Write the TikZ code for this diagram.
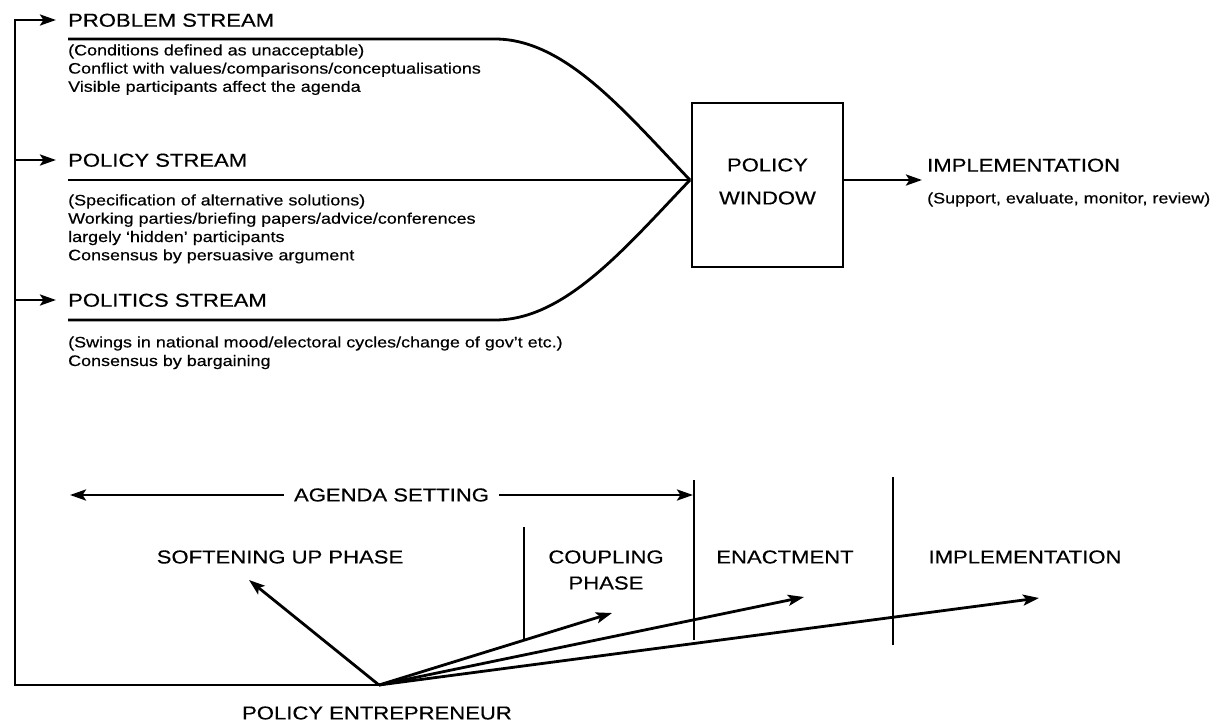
\documentclass[tikz,border=0pt]{standalone}
\usepackage{fontspec}
\setmainfont{Liberation Sans}[FakeStretch=1.18,FakeBold=0.4]
\usetikzlibrary{arrows.meta}
\begin{document}
\begin{tikzpicture}[x=1pt,y=-1pt,
  line/.style={line width=2.8pt},
  arr/.style={line width=2.8pt,-{Stealth[length=16pt,width=11pt,inset=3.5pt]}},
  title/.style={font=\fontsize{18.7}{33}\selectfont, inner sep=0pt},
  small/.style={font=\fontsize{15.2}{18}\selectfont, inner sep=0pt, anchor=base west},
  divider/.style={line width=2.2pt},
  box/.style={draw, line width=2.8pt, minimum width=151pt, minimum height=164pt, inner sep=0pt}]
\useasboundingbox (0,0) rectangle (1216,723);

% corner points of the feedback line
\coordinate (top) at (15,20);
\coordinate (mid) at (15,160);
\coordinate (low) at (15,300);
\coordinate (corner) at (15,685);
\coordinate (pe) at (379,685);

% stream titles
\node[title, anchor=base west] (prob) at (68,26.7) {PROBLEM STREAM};
\node[title, anchor=base west] (pol) at (68,166.7) {POLICY STREAM};
\node[title, anchor=base west] (polit) at (68,306.7) {POLITICS STREAM};

% stream descriptions
\node[small] (p1) at (68,55.4) {(Conditions defined as unacceptable)};
\node[small] (p2) at (68,73.6) {Conflict with values/comparisons/conceptualisations};
\node[small] (p3) at (68,91.8) {Visible participants affect the agenda};
\node[small] (q1) at (68,205.4) {(Specification of alternative solutions)};
\node[small] (q2) at (68,223.7) {Working parties/briefing papers/advice/conferences};
\node[small] (q3) at (68,242.0) {largely ‘hidden’ participants};
\node[small] (q4) at (68,260.3) {Consensus by persuasive argument};
\node[small] (r1) at (68,347.4) {(Swings in national mood/electoral cycles/change of gov’t etc.)};
\node[small] (r2) at (68,366.0) {Consensus by bargaining};

% policy window and implementation
\node[box] (window) at (767.5,185) {};
\node[title, align=center] (wintext) at (767.5,181.5) {POLICY\\WINDOW};
\coordinate (conv) at (690,180);
\node[title, anchor=base west] (impl) at (927,171.7) {IMPLEMENTATION};
\node[small] (impldesc) at (927,203.4) {(Support, evaluate, monitor, review)};

% stream lines
\coordinate (s1) at (68,39);
\coordinate (s1b) at (495,39);
\coordinate (s2) at (68,180);
\coordinate (s3) at (68,320);
\coordinate (s3b) at (495,320);
\draw[line] (s1) -- (s1b) .. controls (565,39) and (625,112) .. (conv);
\draw[line] (s2) -- (conv);
\draw[line] (s3) -- (s3b) .. controls (565,320) and (625,248) .. (conv);

% feedback line and arrows
\draw[arr, shorten >=12pt, line join=miter] (pe) -- (corner) -- (top) -- (top -| prob.west);
\draw[arr, shorten >=12pt] (mid) -- (mid -| pol.west);
\draw[arr, shorten >=12pt] (low) -- (low -| polit.west);
\draw[arr, shorten >=5pt] (window.east |- conv) -- (impl.west |- conv);

% agenda setting
\node[title, inner xsep=10pt] (agenda) at (391.5,495) {AGENDA SETTING};
\coordinate (agl) at (70,495);
\coordinate (agr) at (694,495);
\draw[arr] (agenda.west) -- (agl);
\draw[arr, shorten >=1pt] (agenda.east) -- (agr);

% dividers
\coordinate (d1t) at (524,527);
\coordinate (d1b) at (524,640);
\coordinate (d2t) at (694,480);
\coordinate (d2b) at (694,640);
\coordinate (d3t) at (893,477);
\coordinate (d3b) at (893,645);
\draw[divider] (d1t) -- (d1b);
\draw[divider] (d2t) -- (d2b);
\draw[divider] (d3t) -- (d3b);

% phase labels
\node[title] (soft) at (280,557) {SOFTENING UP PHASE};
\node[title, align=center] (coup) at (606,570) {COUPLING\\[-7pt]PHASE};
\node[title] (enact) at (785,557) {ENACTMENT};
\node[title] (impl2) at (1025,557) {IMPLEMENTATION};

% entrepreneur arrows
\coordinate (tsoft) at (249,580);
\coordinate (tcoup) at (612,613);
\coordinate (tenact) at (804,597);
\coordinate (timpl) at (1039,598);
\draw[arr] (pe) -- (tsoft);
\draw[arr] (pe) -- (tcoup);
\draw[arr] (pe) -- (tenact);
\draw[arr] (pe) -- (timpl);

\node[title] (pelabel) at (377,713) {POLICY ENTREPRENEUR};
\end{tikzpicture}
\end{document}
